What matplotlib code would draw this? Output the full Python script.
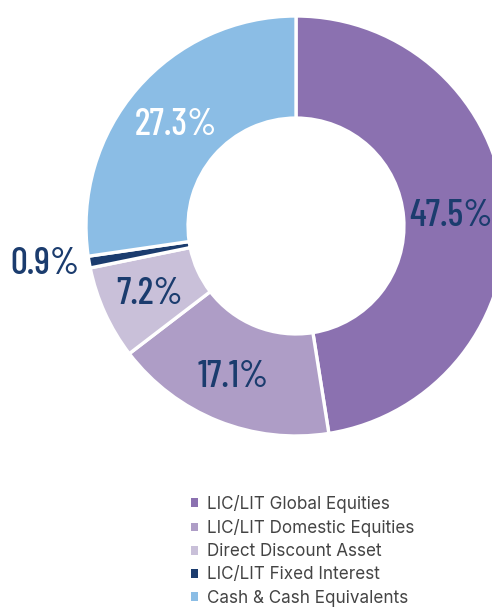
import matplotlib
matplotlib.use("Agg")
import matplotlib.pyplot as plt

categories = ["LIC/LIT Global Equities", "LIC/LIT Domestic Equities",
              "Direct Discount Asset", "LIC/LIT Fixed Interest",
              "Cash & Cash Equivalents"]
values = [47.5, 17.1, 7.2, 0.9, 27.3]
labels = ["47.5%", "17.1%", "7.2%", "0.9%", "27.3%"]
colors = ["#8B71B0", "#AE9DC6", "#C9C0D9", "#1B3C6E", "#8BBDE5"]
label_colors = ["#1B3C6E", "#1B3C6E", "#1B3C6E", "#1B3C6E", "#FFFFFF"]

W, H = 492, 607
fig = plt.figure(figsize=(W / 100, H / 100), dpi=100)
cx, cy, R = 296, 226, 210
ax = fig.add_axes([(cx - R) / W, (H - cy - R) / H, 2 * R / W, 2 * R / H])

wedges, _ = ax.pie(values, colors=colors, startangle=90, counterclock=False,
                   radius=1.0,
                   wedgeprops=dict(width=0.486, edgecolor="white", linewidth=2.4))
for w in wedges:
    w.set_clip_on(False)
ax.set_xlim(-1, 1)
ax.set_ylim(-1, 1)
ax.set_aspect("equal")
ax.axis("off")

label_px = [(451, 216), (233, 377), (150, 294), (45, 264), (176, 125)]
font = ["Barlow Condensed", "DejaVu Sans"]
for (px, py), lab, c in zip(label_px, labels, label_colors):
    ax.text((px - cx) / R, (cy - py) / R, lab, ha="center", va="center",
            fontsize=27, color=c, family=font, fontweight="medium",
            clip_on=False)

leg = fig.legend(wedges, categories, loc="upper left",
                 bbox_to_anchor=(191 / W, 1 - 495 / H), frameon=False,
                 fontsize=12.3, handlelength=0.42, handleheight=0.42,
                 handletextpad=0.5, labelspacing=0.36, borderpad=0,
                 borderaxespad=0)
for t in leg.get_texts():
    t.set_color("#444444")
    t.set_family(["Inter", "DejaVu Sans"])
for h in leg.legend_handles:
    h.set_edgecolor("none")

fig.savefig("out.png", dpi=100)
